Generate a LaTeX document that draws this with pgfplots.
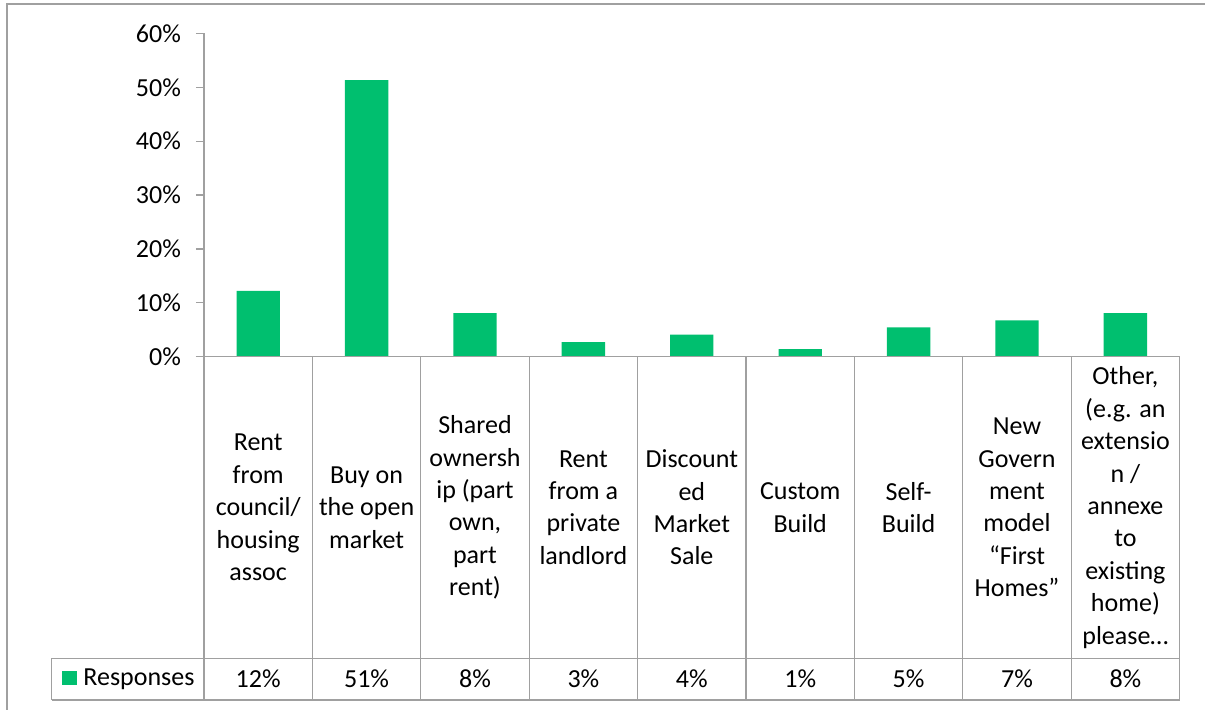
\documentclass[border=0pt]{standalone}
\usepackage{fontspec}
\setmainfont{Carlito}
\usepackage{pgfplots}
\pgfplotsset{compat=1.18}
\definecolor{bargreen}{RGB}{0,191,111}
\definecolor{linegray}{RGB}{160,160,160}
\newcommand{\cf}{\fontsize{13}{16.2}\selectfont}
\begin{document}
\begin{tikzpicture}
\path[use as bounding box] (-102pt,-176.65pt) rectangle (500.5pt,178.35pt);
\begin{axis}[at={(0,0)}, anchor=south west, scale only axis,
  width=487.8pt, height=161.67pt,
  xmin=0, xmax=9, ymin=0, ymax=60,
  axis x line=none, axis y line*=left,
  axis line style={linegray, line width=0.6pt},
  ytick={0,10,...,60}, tick align=outside, major tick length=4pt,
  tick style={linegray, line width=0.6pt},
  yticklabel={\pgfmathprintnumber{\tick}\%},
  yticklabel style={font=\cf, /pgf/number format/assume math mode=true, xshift=-4pt},
  clip=false]
\addplot[ybar, bar width=0.4, fill=bargreen, draw=none] coordinates {
 (0.5,12.2) (1.5,51.3) (2.5,8.1) (3.5,2.7) (4.5,4.1) (5.5,1.4) (6.5,5.45) (7.5,6.75) (8.5,8.1)};
\end{axis}
\begin{scope}[x=0.5pt, y=-0.5pt, shift={(-204,-356.7)}]
 \draw[linegray, line width=0.6pt] (196,356.7) -- (1179.6,356.7);
 \foreach \k in {0,...,9} {
   \draw[linegray, line width=0.6pt] ({204+108.4*\k},356.7) -- ({204+108.4*\k},700);
 }
 \draw[linegray, line width=0.6pt] (51.7,658.3) -- (1179.6,658.3);
 \draw[linegray, line width=0.6pt] (51.7,700) -- (1179.6,700);
 \draw[linegray, line width=0.6pt] (51.7,658.3) -- (51.7,700);
 \draw[linegray, line width=0.6pt] (7,712) -- (7,4) -- (1206,4);
 % legend key
 \fill[bargreen] (62,671) rectangle (77,685);
 \node[anchor=west, font=\cf, inner sep=0pt] at (83,679) {Responses};
 % category labels
 \node[align=center, font=\cf] at (258.2,507.5) {Rent\\from\\council/\\housing\\assoc};
 \node[align=center, font=\cf] at (366.6,507.5) {Buy on\\the open\\market};
 \node[align=center, font=\cf] at (475.0,507.5) {Shared\\ownersh\\ip (part\\own,\\part\\rent)};
 \node[align=center, font=\cf] at (583.4,507.5) {Rent\\from a\\private\\landlord};
 \node[align=center, font=\cf] at (691.8,507.5) {Discount\\ed\\Market\\Sale};
 \node[align=center, font=\cf] at (800.2,507.5) {Custom\\Build};
 \node[align=center, font=\cf] at (908.6,507.5) {Self-\\Build};
 \node[align=center, font=\cf] at (1017.0,507.5) {New\\Govern\\ment\\model\\“First\\Homes”};
 \node[align=center, font=\cf] at (1125.4,507.5) {Other,\\(e.g. an\\extensio\\n /\\annexe\\to\\existing\\home)\\please…};
 % values
 \foreach \v [count=\i from 0] in {12,51,8,3,4,1,5,7,8} {
   \node[font=\cf] at ({258.2+108.4*\i},679) {\v\%};
 }
\end{scope}
\end{tikzpicture}
\end{document}
